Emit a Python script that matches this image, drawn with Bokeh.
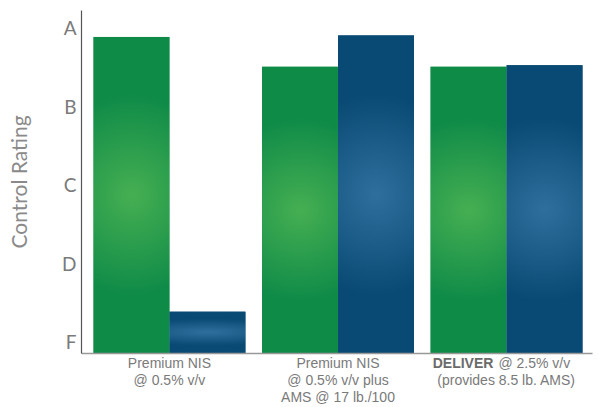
import numpy as np
from bokeh.plotting import figure
from bokeh.models import Range1d, FixedTicker, LinearAxis
from bokeh.embed import file_html
from bokeh.resources import INLINE

# ---------------- data ----------------
group_index = [0, 1, 2]
green_values = [3.88, 3.50, 3.50]
blue_values = [0.38, 3.90, 3.52]
rating_ticks = [0, 1, 2, 3, 4]
rating_labels = ["F", "D", "C", "B", "A"]
group_lines = [
    ["Premium NIS", "@ 0.5% v/v"],
    ["Premium NIS", "@ 0.5% v/v plus", "AMS @ 17 lb./100"],
    [None, "(provides 8.5 lb. AMS)"],
]
brand_label = "DELIVER"
brand_group = 2
brand_suffix = "@ 2.5% v/v"
y_title = "Control Rating"

# ---------------- style ----------------
GREEN_EDGE = (15, 139, 72)
GREEN_CENTER = (70, 175, 82)
BLUE_EDGE = (9, 74, 116)
BLUE_CENTER = (46, 111, 158)
Y_START, Y_END = -0.153, 4.217
X_START, X_END = -0.522, 2.51
BAR_W = 0.45
OFF = 0.2255
BRAND_SHIFT = -0.258
SUFFIX_SHIFT = 0.165
TEXT_GRAY = "#7a7a7a"
FONT = "Liberation Sans"
ROW_H = 19

p = figure(width=599, height=407, output_backend="svg", toolbar_location=None,
           x_range=Range1d(X_START, X_END), y_range=Range1d(Y_START, Y_END),
           min_border_left=81, min_border_right=7, min_border_top=10, min_border_bottom=54)
p.outline_line_color = None
p.xgrid.grid_line_color = None
p.ygrid.grid_line_color = None
p.background_fill_color = "white"
p.border_fill_color = "white"

green_x = [g - OFF for g in group_index]
blue_x = [g + OFF for g in group_index]
p.vbar(x=green_x, top=green_values, bottom=Y_START, width=BAR_W,
       fill_color="#%02x%02x%02x" % GREEN_EDGE, line_color=None)
p.vbar(x=blue_x, top=blue_values, bottom=Y_START, width=BAR_W,
       fill_color="#%02x%02x%02x" % BLUE_EDGE, line_color=None)


def gradient(edge, center, nx=64, ny=256, rx=2.5, ry=0.64):
    u = np.linspace(-1, 1, nx)
    v = np.linspace(-1, 1, ny)
    U, V = np.meshgrid(u, v)
    d = np.clip(np.sqrt((U / rx) ** 2 + (V / ry) ** 2), 0, 1)
    img = np.empty((ny, nx), dtype=np.uint32)
    view = img.view(dtype=np.uint8).reshape((ny, nx, 4))
    for k in range(3):
        view[:, :, k] = np.round(center[k] + (edge[k] - center[k]) * d).astype(np.uint8)
    view[:, :, 3] = 255
    return img


for xs, vals, edge, center in [(green_x, green_values, GREEN_EDGE, GREEN_CENTER),
                               (blue_x, blue_values, BLUE_EDGE, BLUE_CENTER)]:
    for xc, top in zip(xs, vals):
        p.image_rgba(image=[gradient(edge, center)], x=xc - BAR_W / 2, y=Y_START,
                     dw=BAR_W, dh=top - Y_START)

# y axis
p.yaxis.ticker = FixedTicker(ticks=rating_ticks)
p.yaxis.major_label_overrides = {t: l for t, l in zip(rating_ticks, rating_labels)}
p.yaxis.major_tick_line_color = None
p.yaxis.minor_tick_line_color = None
p.yaxis.major_tick_out = 0
p.yaxis.major_label_text_font = "Lato"
p.yaxis.major_label_text_font_size = "19px"
p.yaxis.major_label_text_color = TEXT_GRAY
p.yaxis.major_label_standoff = 5
p.yaxis.axis_line_color = "#555555"
p.yaxis.axis_line_width = 1.2
p.yaxis.axis_label = y_title
p.yaxis.axis_label_text_font = "Lato"
p.yaxis.axis_label_text_font_size = "21px"
p.yaxis.axis_label_text_font_style = "normal"
p.yaxis.axis_label_text_color = "#8a8a8a"
p.yaxis.axis_label_standoff = 28

# x axis 1 (closest to the frame): bold brand name, draws the baseline
bx = brand_group + BRAND_SHIFT
xa = p.xaxis[0]
xa.ticker = FixedTicker(ticks=[bx])
xa.major_label_overrides = {bx: brand_label}
xa.major_tick_line_color = None
xa.minor_tick_line_color = None
xa.major_tick_out = 0
xa.major_label_standoff = 1
xa.major_label_text_font = FONT
xa.major_label_text_font_size = "14px"
xa.major_label_text_font_style = "bold"
xa.major_label_text_color = "#6a6a6a"
xa.axis_line_color = "#999999"
xa.axis_line_width = 1.5


def row_axis(ticks, overrides, standoff):
    ax = LinearAxis(ticker=FixedTicker(ticks=ticks), major_label_overrides=overrides,
                    axis_line_color=None, major_tick_line_color=None,
                    minor_tick_line_color=None, major_tick_out=0,
                    major_label_standoff=standoff,
                    major_label_text_font=FONT, major_label_text_font_size="14px",
                    major_label_text_color=TEXT_GRAY)
    p.add_layout(ax, "below")


# one axis per text row of the category labels
sx = brand_group + SUFFIX_SHIFT
n_rows = max(len(lines) for lines in group_lines)
for r in range(n_rows):
    ticks, overrides = [], {}
    for g, lines in zip(group_index, group_lines):
        if r < len(lines) and lines[r]:
            ticks.append(g)
            overrides[g] = lines[r]
    if r == 0:
        ticks.append(sx)
        overrides[sx] = brand_suffix
        row_axis(ticks, overrides, -ROW_H)
    else:
        row_axis(ticks, overrides, -2)

open("out.html", "w").write(file_html(p, INLINE))
